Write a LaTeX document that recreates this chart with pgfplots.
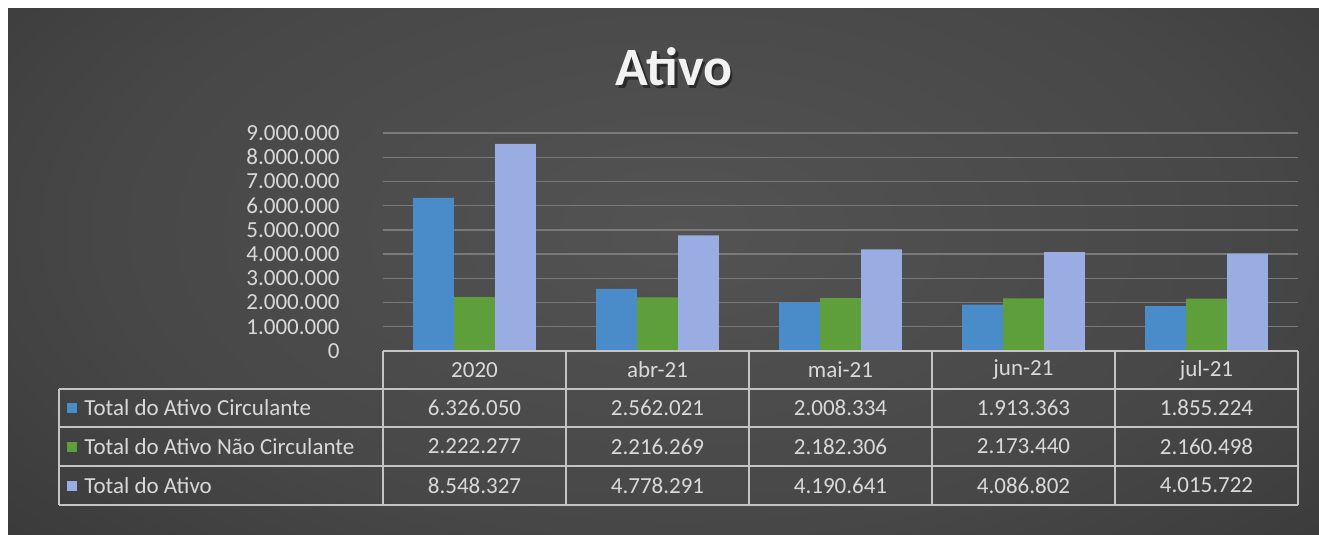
\documentclass[border=0pt]{standalone}
\usepackage{pgfplots}
\pgfplotsset{compat=1.18}
\usepackage{fontspec}
\setmainfont{Carlito}
\definecolor{cBlue}{HTML}{4A8BC9}
\definecolor{cGreen}{HTML}{5E9F3B}
\definecolor{cLight}{HTML}{99ADE3}
\definecolor{gridc}{HTML}{7A7A7A}
\definecolor{tabc}{HTML}{C4C4C4}
\definecolor{txt}{HTML}{D9D9D9}
\definecolor{titlec}{HTML}{F2F2F2}
\definecolor{bgA}{HTML}{535353}
\definecolor{bgB}{HTML}{474747}
\definecolor{bgC}{HTML}{363636}
\definecolor{bgD}{HTML}{272727}
\pgfdeclareradialshading{bgshade}{\pgfpoint{0bp}{0bp}}{color(0bp)=(bgA); color(20bp)=(bgB); color(35bp)=(bgC); color(50bp)=(bgD)}
\newcommand{\tf}{\fontsize{11.5}{13}\selectfont}
\begin{document}
\begin{tikzpicture}[x=0.5pt,y=-0.5pt]
\fill[white] (0,0) rectangle (1319,535);
\begin{scope}
\clip (8,9) rectangle (1319,535);
\shade[shading=bgshade] (-40,-150) rectangle (1400,610);
\end{scope}
% title
\node[text=black, opacity=0.45, font=\fontsize{27}{32}\selectfont\bfseries] at (676.5,69.5) {Ativo};
\node[text=titlec, font=\fontsize{27}{32}\selectfont\bfseries] at (674,67) {Ativo};
\coordinate (AX) at (383,351);
\begin{axis}[
  at={(AX)}, anchor=south west,
  scale only axis, width=457.5pt, height=109pt,
  xmin=-0.5, xmax=4.5, ymin=0, ymax=9000000,
  xtick=\empty,
  scaled y ticks=false,
  ytick={0,1000000,2000000,3000000,4000000,5000000,6000000,7000000,8000000,9000000},
  yticklabels={0,1.000.000,2.000.000,3.000.000,4.000.000,5.000.000,6.000.000,7.000.000,8.000.000,9.000.000},
  axis line style={draw=none},
  major tick length=0pt,
  ymajorgrids,
  grid style={gridc, line width=0.7pt},
  yticklabel style={font=\tf, text=txt, anchor=east, inner sep=0pt, xshift=-21.5pt},
  ybar, bar width=0.222,
]
\addplot[fill=cBlue, draw=none, bar shift=-0.224] coordinates {(0,6326050) (1,2562021) (2,2008334) (3,1913363) (4,1855224)};
\addplot[fill=cGreen, draw=none, bar shift=0] coordinates {(0,2222277) (1,2216269) (2,2182306) (3,2173440) (4,2160498)};
\addplot[fill=cLight, draw=none, bar shift=0.224] coordinates {(0,8548327) (1,4778291) (2,4190641) (3,4086802) (4,4015722)};
\end{axis}
% table
\begin{scope}[tabc, line width=0.75pt]
\draw (383,351) -- (1298,351);
\foreach \yy in {389,427,466,505} \draw (59,\yy) -- (1298,\yy);
\draw (59,389) -- (59,505);
\foreach \xx in {383,566,749,932,1115,1298} \draw (\xx,351) -- (\xx,505);
\end{scope}
\begin{scope}[every node/.style={font=\tf, text=txt, inner sep=0pt}]
\node at (474.5,370) {2020};
\node at (657.5,370) {abr-21};
\node at (840.5,370) {mai-21};
\node at (1023.5,370) {jun-21};
\node at (1206.5,370) {jul-21};
\fill[cBlue] (67,403) rectangle (77,413);
\fill[cGreen] (67,441.5) rectangle (77,451.5);
\fill[cLight] (67,480.5) rectangle (77,490.5);
\node[anchor=west] at (84,408) {Total do Ativo Circulante};
\node[anchor=west] at (84,446.5) {Total do Ativo Não Circulante};
\node[anchor=west] at (84,485.5) {Total do Ativo};
\node at (474.5,408) {6.326.050};
\node at (657.5,408) {2.562.021};
\node at (840.5,408) {2.008.334};
\node at (1023.5,408) {1.913.363};
\node at (1206.5,408) {1.855.224};
\node at (474.5,446.5) {2.222.277};
\node at (657.5,446.5) {2.216.269};
\node at (840.5,446.5) {2.182.306};
\node at (1023.5,446.5) {2.173.440};
\node at (1206.5,446.5) {2.160.498};
\node at (474.5,485.5) {8.548.327};
\node at (657.5,485.5) {4.778.291};
\node at (840.5,485.5) {4.190.641};
\node at (1023.5,485.5) {4.086.802};
\node at (1206.5,485.5) {4.015.722};
\end{scope}
\pgfresetboundingbox
\path[use as bounding box] (0,0) rectangle (1319,535);
\end{tikzpicture}
\end{document}
